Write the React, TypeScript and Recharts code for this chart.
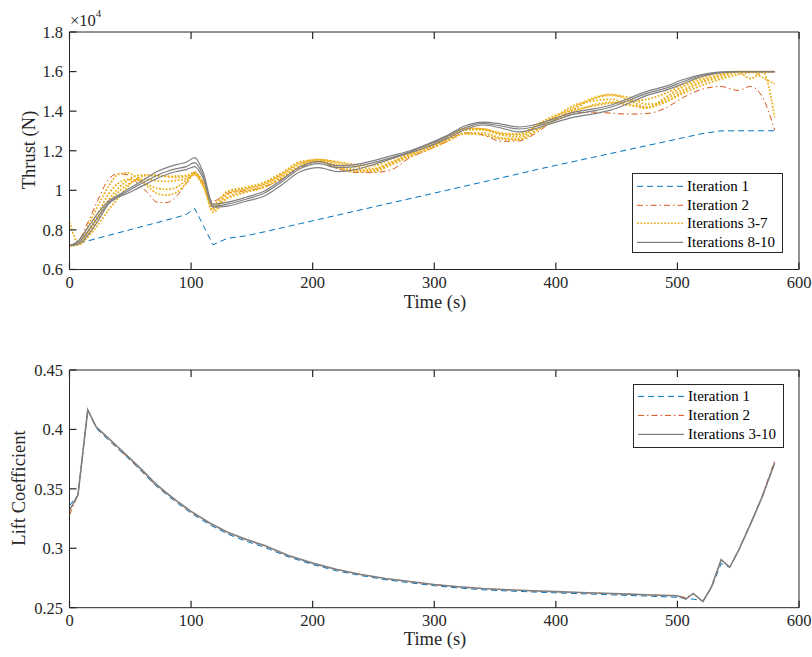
import { Legend, Line, LineChart, XAxis, YAxis } from "recharts";

// time samples for the thrust plot (s)
const TOP_TIME = [
  0, 8, 16, 24, 32, 40, 48, 56, 64, 72, 80, 88, 96, 103, 110, 118,
  130, 145, 160, 175, 190, 205, 220, 235, 250, 265, 280, 295, 310, 325, 340, 355, 370, 385, 400,
  415, 430, 445, 460, 475, 490, 505, 520, 535, 550,
  560, 570, 580,
];

// thrust (N)
const THRUST_IT1 = [
  7200, 7330, 7460, 7590, 7720, 7850, 7980, 8110, 8240, 8370, 8500, 8630, 8780, 9080, 8230, 7250,
  7580, 7700, 7900, 8110, 8320, 8530, 8740, 8950, 9160, 9370, 9580, 9790, 10000, 10210, 10420, 10630, 10840, 11060, 11260,
  11460, 11660, 11860, 12060, 12260, 12460, 12660, 12860, 13000, 13010,
  13010, 13010, 13010,
];
const THRUST_IT2 = [
  7200, 7500, 8500, 9600, 10550, 10840, 10780, 10350, 9900, 9400, 9380, 9700, 10350, 10920, 10400, 9450,
  9850, 9980, 10150, 10600, 11150, 11450, 11100, 10900, 10900, 11050, 11650, 12050, 12450, 12900, 12800, 12480, 12500, 12950, 13600,
  13900, 13950, 13900, 13850, 13880, 14150, 14700, 15100, 15250, 15050,
  15250, 14700, 13050,
];
const THRUST_IT3 = [
  8400, 7300, 7900, 8700, 9500, 10100, 10500, 10750, 10780, 10750, 10700, 10720, 10750, 10900, 10300, 8900,
  9650, 9950, 10200, 10700, 11250, 11500, 11300, 11050, 11000, 11350, 11750, 12100, 12500, 12900, 12900, 12650, 12600, 13100, 13600,
  14100, 14600, 14800, 14700, 14350, 14500, 14900, 15300, 15600, 15850,
  15950, 16000, 13700,
];
const THRUST_IT4 = [
  7200, 7400, 8300, 9300, 10200, 10800, 10880, 10600, 10200, 9850, 9760, 9900, 10350, 10850, 10350, 9100,
  9800, 10050, 10300, 10800, 11350, 11550, 11400, 11200, 11100, 11450, 11800, 12150, 12550, 13050, 13050, 12800, 12700, 13250, 13700,
  14200, 14650, 14850, 14550, 14200, 14450, 15000, 15450, 15700, 15950,
  15650, 15950, 16000,
];
const THRUST_IT5 = [
  7200, 7300, 8000, 8900, 9800, 10350, 10550, 10500, 10300, 10100, 10050, 10150, 10500, 10800, 10250, 9000,
  9900, 10100, 10350, 10850, 11400, 11500, 11200, 11000, 11050, 11400, 11850, 12200, 12600, 13100, 13100, 12850, 12800, 13300, 13750,
  14300, 14500, 14600, 14350, 14150, 14700, 15250, 15600, 15850, 16000,
  16000, 15700, 15370,
];
const THRUST_IT6 = [
  7200, 7250, 7800, 8600, 9350, 9900, 10300, 10550, 10550, 10480, 10450, 10500, 10600, 10800, 10200, 9200,
  9600, 9900, 10150, 10650, 11200, 11450, 11150, 10950, 10950, 11300, 11700, 12050, 12450, 12850, 12800, 12600, 12550, 13050, 13550,
  13950, 14300, 14450, 14300, 14200, 14600, 15100, 15500, 15800, 16000,
  16000, 16000, 16000,
];
const THRUST_IT7 = [
  7200, 7300, 7700, 8300, 9000, 9600, 10200, 10600, 10750, 10750, 10700, 10650, 10700, 10880, 10400, 9300,
  9950, 10150, 10400, 10900, 11450, 11550, 11450, 11300, 11250, 11600, 11900, 12250, 12650, 13150, 13100, 12900, 12850, 13350, 13800,
  14050, 14250, 14400, 14500, 14600, 14900, 15350, 15700, 15950, 16000,
  16000, 16000, 16000,
];
const THRUST_IT8 = [
  7200, 7500, 8200, 8900, 9450, 9750, 10050, 10350, 10650, 10950, 11150, 11300, 11420, 11650, 10900, 9300,
  9400, 9650, 9950, 10550, 11200, 11450, 11250, 11300, 11500, 11750, 12000, 12350, 12750, 13250, 13450, 13350, 13200, 13350, 13650,
  13950, 14100, 14300, 14650, 15000, 15250, 15600, 15850, 15980, 16000,
  16000, 16000, 16000,
];
const THRUST_IT9 = [
  7200, 7400, 8000, 8700, 9350, 9700, 9950, 10250, 10500, 10750, 10950, 11100, 11200, 11400, 10750, 9200,
  9300, 9550, 9850, 10450, 11100, 11350, 11150, 11200, 11400, 11650, 11950, 12300, 12700, 13150, 13380, 13250, 13100, 13250, 13550,
  13850, 14000, 14200, 14550, 14900, 15150, 15500, 15800, 15960, 16000,
  16000, 16000, 16000,
];
const THRUST_IT10 = [
  7200, 7300, 7800, 8500, 9300, 9650, 9850, 10100, 10350, 10600, 10800, 10950, 11050, 11200, 10600, 9150,
  9200, 9450, 9700, 10300, 10950, 11150, 10950, 11050, 11300, 11600, 11900, 12200, 12600, 13050, 13300, 13150, 12950, 13150, 13450,
  13700, 13850, 14050, 14400, 14800, 15050, 15400, 15750, 15930, 16000,
  16000, 16000, 16000,
];

// time samples for the lift coefficient plot (s)
const BOT_TIME = [
  0, 7, 15, 22, 30, 40, 50, 60, 70, 80, 90, 100, 115, 130, 145, 160,
  180, 200, 220, 240, 260, 280, 300, 320, 340, 360, 380, 400, 420, 440, 460, 480, 500,
  507, 513, 521, 528, 536, 543, 550, 556, 563, 570, 580,
];
const CL_IT1 = [
  0.336, 0.345, 0.4165, 0.401, 0.393, 0.3835, 0.374, 0.364, 0.3535, 0.345, 0.337, 0.3295, 0.32, 0.312, 0.306, 0.301,
  0.2928, 0.2863, 0.281, 0.277, 0.2735, 0.271, 0.2685, 0.2666, 0.2651, 0.2641, 0.2633, 0.2625, 0.2618, 0.2611, 0.2603, 0.2596, 0.2588,
  0.2578, 0.2572, 0.2558, 0.2668, 0.2872, 0.284, 0.2975, 0.311, 0.327, 0.344, 0.3715,
];
const CL_IT2 = [
  0.328, 0.345, 0.4165, 0.402, 0.394, 0.384, 0.3745, 0.3645, 0.354, 0.3458, 0.338, 0.3305, 0.3212, 0.3132, 0.3072, 0.3022,
  0.2938, 0.2873, 0.282, 0.2778, 0.2744, 0.2719, 0.2694, 0.2675, 0.266, 0.265, 0.2642, 0.2634, 0.2627, 0.262, 0.2613, 0.2606, 0.26,
  0.2585, 0.2618, 0.2552, 0.2678, 0.2905, 0.2842, 0.298, 0.3115, 0.3278, 0.345, 0.3738,
];
const CL_IT3_10 = [
  0.332, 0.345, 0.4165, 0.402, 0.3945, 0.385, 0.3755, 0.3655, 0.355, 0.3465, 0.3385, 0.331, 0.3215, 0.3135, 0.3075, 0.3025,
  0.294, 0.2875, 0.2822, 0.278, 0.2745, 0.272, 0.2695, 0.2676, 0.2661, 0.2651, 0.2643, 0.2635, 0.2628, 0.2621, 0.2614, 0.2607, 0.26,
  0.2572, 0.262, 0.2552, 0.2675, 0.2905, 0.284, 0.2975, 0.311, 0.327, 0.344, 0.372,
];

const TIME_TICKS = [0, 100, 200, 300, 400, 500, 600];
const THRUST_TICKS = [6000, 8000, 10000, 12000, 14000, 16000, 18000];
const CL_TICKS = [0.25, 0.3, 0.35, 0.4, 0.45];

const BLUE = "#0072BD";
const ORANGE = "#D95319";
const YELLOW = "#EDB120";
const GRAY = "#808080";
const AXIS = "#262626";
const FONT = '"Liberation Serif", "Times New Roman", serif';

const DASH = "6 4";
const DASH_DOT = "6 3 1.5 3";
const DOT = "1.8 1.6";

const TICK_LEN = 7;
const LABEL_GAP = 6.5;

const topRows = TOP_TIME.map((t, i) => ({
  t,
  it1: THRUST_IT1[i],
  it2: THRUST_IT2[i],
  it3: THRUST_IT3[i],
  it4: THRUST_IT4[i],
  it5: THRUST_IT5[i],
  it6: THRUST_IT6[i],
  it7: THRUST_IT7[i],
  it8: THRUST_IT8[i],
  it9: THRUST_IT9[i],
  it10: THRUST_IT10[i],
}));

const botRows = BOT_TIME.map((t, i) => ({
  t,
  it1: CL_IT1[i],
  it2: CL_IT2[i],
  rest: CL_IT3_10[i],
}));

type LegendItem = { label: string; color: string; dash?: string; width: number };

const TOP_LEGEND: LegendItem[] = [
  { label: "Iteration 1", color: BLUE, dash: DASH, width: 1 },
  { label: "Iteration 2", color: ORANGE, dash: DASH_DOT, width: 1 },
  { label: "Iterations 3-7", color: YELLOW, dash: DOT, width: 1.5 },
  { label: "Iterations 8-10", color: GRAY, width: 1.2 },
];

const BOT_LEGEND: LegendItem[] = [
  { label: "Iteration 1", color: BLUE, dash: DASH, width: 1 },
  { label: "Iteration 2", color: ORANGE, dash: DASH_DOT, width: 1 },
  { label: "Iterations 3-10", color: GRAY, width: 1.2 },
];

type TickProps = { x: number; y: number; payload: { value: number; coordinate: number } };

// inward tick marks (MATLAB style), labels outside the box
const bottomTick = (p: TickProps) => {
  const base = Number(p.y) - LABEL_GAP;
  const cx = Number(p.payload.coordinate);
  return (
    <g>
      <path d={`M${cx},${base}V${base - TICK_LEN}`} stroke={AXIS} strokeWidth={1.2} fill="none" />
      <text x={cx} y={p.y} dy="0.71em" textAnchor="middle" fontFamily={FONT} fontSize={16.5} fill={AXIS}>
        {String(p.payload.value)}
      </text>
    </g>
  );
};

const topTick = (p: TickProps) => {
  const cx = Number(p.payload.coordinate);
  const base = Number(p.y);
  return <path d={`M${cx},${base}V${base + TICK_LEN}`} stroke={AXIS} strokeWidth={1.2} fill="none" />;
};

const leftTick = (fmt: (v: number) => string) => (p: TickProps) => {
  const base = Number(p.x) + LABEL_GAP;
  const cy = Number(p.payload.coordinate);
  return (
    <g>
      <path d={`M${base},${cy}H${base + TICK_LEN}`} stroke={AXIS} strokeWidth={1.2} fill="none" />
      <text x={p.x} y={cy} dy="0.355em" textAnchor="end" fontFamily={FONT} fontSize={16.5} fill={AXIS}>
        {fmt(p.payload.value)}
      </text>
    </g>
  );
};

const rightTick = (p: TickProps) => {
  const cy = Number(p.payload.coordinate);
  const base = Number(p.x);
  return <path d={`M${base},${cy}H${base - TICK_LEN}`} stroke={AXIS} strokeWidth={1.2} fill="none" />;
};

const LegendBox = ({ items, height, padTop, rowH }: { items: LegendItem[]; height: number; padTop: number; rowH: number }) => (
  <div
    style={{
      width: 151,
      height,
      boxSizing: "border-box",
      border: `1px solid ${AXIS}`,
      background: "#fff",
      paddingTop: padTop,
      fontFamily: FONT,
      fontSize: 15,
      color: "#000",
    }}
  >
    {items.map((item) => (
      <div key={item.label} style={{ display: "flex", alignItems: "center", height: rowH, whiteSpace: "nowrap" }}>
        <svg width={54} height={rowH} style={{ flex: "none" }}>
          <line
            x1={4}
            x2={50}
            y1={rowH / 2}
            y2={rowH / 2}
            stroke={item.color}
            strokeWidth={item.width}
            strokeDasharray={item.dash}
          />
        </svg>
        <span style={{ lineHeight: `${rowH}px` }}>{item.label}</span>
      </div>
    ))}
  </div>
);

const axisTitle = (text: string, cx: number, cy: number, rotate = false) => (
  <div
    style={{
      position: "absolute",
      left: cx,
      top: cy,
      transform: `translate(-50%, -50%)${rotate ? " rotate(-90deg)" : ""}`,
      whiteSpace: "nowrap",
      fontFamily: FONT,
      fontSize: 18.5,
      lineHeight: "19px",
      color: AXIS,
    }}
  >
    {text}
  </div>
);

const fmtThrust = (v: number) => String(Math.round(v / 1000) / 10);
const fmtPlain = (v: number) => String(v);

const App = () => {
  return (
    <div style={{ position: "absolute", left: 0, top: 0, width: 812, height: 657, background: "#fff" }}>
      <div style={{ position: "absolute", left: 0, top: 0 }}>
        <LineChart width={812} height={330} data={topRows} margin={{ top: 31, right: 12, bottom: 30.5, left: 9.5 }}>
          <XAxis
            dataKey="t"
            type="number"
            domain={[0, 600]}
            ticks={TIME_TICKS}
            height={30}
            tickSize={0}
            tickLine={false}
            tickMargin={LABEL_GAP}
            stroke={AXIS}
            tick={bottomTick}
          />
          <XAxis
            xAxisId="top"
            orientation="top"
            dataKey="t"
            type="number"
            domain={[0, 600]}
            ticks={TIME_TICKS}
            height={1}
            tickSize={0}
            tickLine={false}
            tickMargin={0}
            tick={topTick}
            stroke={AXIS}
          />
          <YAxis
            type="number"
            domain={[6000, 18000]}
            ticks={THRUST_TICKS}
            width={60}
            tickSize={0}
            tickLine={false}
            tickMargin={LABEL_GAP}
            stroke={AXIS}
            tick={leftTick(fmtThrust)}
          />
          <YAxis
            yAxisId="right"
            orientation="right"
            type="number"
            domain={[6000, 18000]}
            ticks={THRUST_TICKS}
            width={1}
            tickSize={0}
            tickLine={false}
            tickMargin={0}
            tick={rightTick}
            stroke={AXIS}
          />
          <Legend
            layout="horizontal"
            verticalAlign="middle"
            align="center"
            wrapperStyle={{ left: 632, top: 173, width: 151, height: 80 }}
            content={() => <LegendBox items={TOP_LEGEND} height={80} padTop={3} rowH={18.6} />}
          />
          <Line dataKey="it1" type="linear" stroke={BLUE} strokeWidth={1} strokeDasharray={DASH} dot={false} activeDot={false} isAnimationActive={false} />
          <Line dataKey="it2" type="monotone" stroke={ORANGE} strokeWidth={1} strokeDasharray={DASH_DOT} dot={false} activeDot={false} isAnimationActive={false} />
          {["it3", "it4", "it5", "it6", "it7"].map((k) => (
            <Line key={k} dataKey={k} type="monotone" stroke={YELLOW} strokeWidth={1.8} strokeDasharray={DOT} dot={false} activeDot={false} isAnimationActive={false} />
          ))}
          {["it8", "it9", "it10"].map((k) => (
            <Line key={k} dataKey={k} type="monotone" stroke={GRAY} strokeWidth={1.2} dot={false} activeDot={false} isAnimationActive={false} />
          ))}
        </LineChart>
      </div>
      <div style={{ position: "absolute", left: 0, top: 330 }}>
        <LineChart width={812} height={327} data={botRows} margin={{ top: 39, right: 12, bottom: 19.3, left: 9.5 }}>
          <XAxis
            dataKey="t"
            type="number"
            domain={[0, 600]}
            ticks={TIME_TICKS}
            height={30}
            tickSize={0}
            tickLine={false}
            tickMargin={LABEL_GAP}
            stroke={AXIS}
            tick={bottomTick}
          />
          <XAxis
            xAxisId="top"
            orientation="top"
            dataKey="t"
            type="number"
            domain={[0, 600]}
            ticks={TIME_TICKS}
            height={1}
            tickSize={0}
            tickLine={false}
            tickMargin={0}
            tick={topTick}
            stroke={AXIS}
          />
          <YAxis
            type="number"
            domain={[0.25, 0.45]}
            ticks={CL_TICKS}
            width={60}
            tickSize={0}
            tickLine={false}
            tickMargin={LABEL_GAP}
            stroke={AXIS}
            tick={leftTick(fmtPlain)}
          />
          <YAxis
            yAxisId="right"
            orientation="right"
            type="number"
            domain={[0.25, 0.45]}
            ticks={CL_TICKS}
            width={1}
            tickSize={0}
            tickLine={false}
            tickMargin={0}
            tick={rightTick}
            stroke={AXIS}
          />
          <Legend
            layout="horizontal"
            verticalAlign="middle"
            align="center"
            wrapperStyle={{ left: 633, top: 54, width: 151, height: 64 }}
            content={() => <LegendBox items={BOT_LEGEND} height={64} padTop={2} rowH={18.8} />}
          />
          <Line dataKey="it1" type="linear" stroke={BLUE} strokeWidth={1} strokeDasharray={DASH} dot={false} activeDot={false} isAnimationActive={false} />
          <Line dataKey="it2" type="linear" stroke={ORANGE} strokeWidth={1} strokeDasharray={DASH_DOT} dot={false} activeDot={false} isAnimationActive={false} />
          <Line dataKey="rest" type="linear" stroke={GRAY} strokeWidth={1.6} dot={false} activeDot={false} isAnimationActive={false} />
        </LineChart>
      </div>
      {axisTitle("Thrust (N)", 28.5, 150, true)}
      {axisTitle("Time (s)", 435, 302)}
      {axisTitle("Lift Coefficient", 19, 488, true)}
      {axisTitle("Time (s)", 435, 639)}
      <div style={{ position: "absolute", left: 70, top: 11, fontFamily: FONT, fontSize: 16.5, color: AXIS, whiteSpace: "nowrap" }}>
        ×10<sup style={{ fontSize: 11, verticalAlign: "top", position: "relative", top: -4 }}>4</sup>
      </div>
    </div>
  );
};

export default App;
